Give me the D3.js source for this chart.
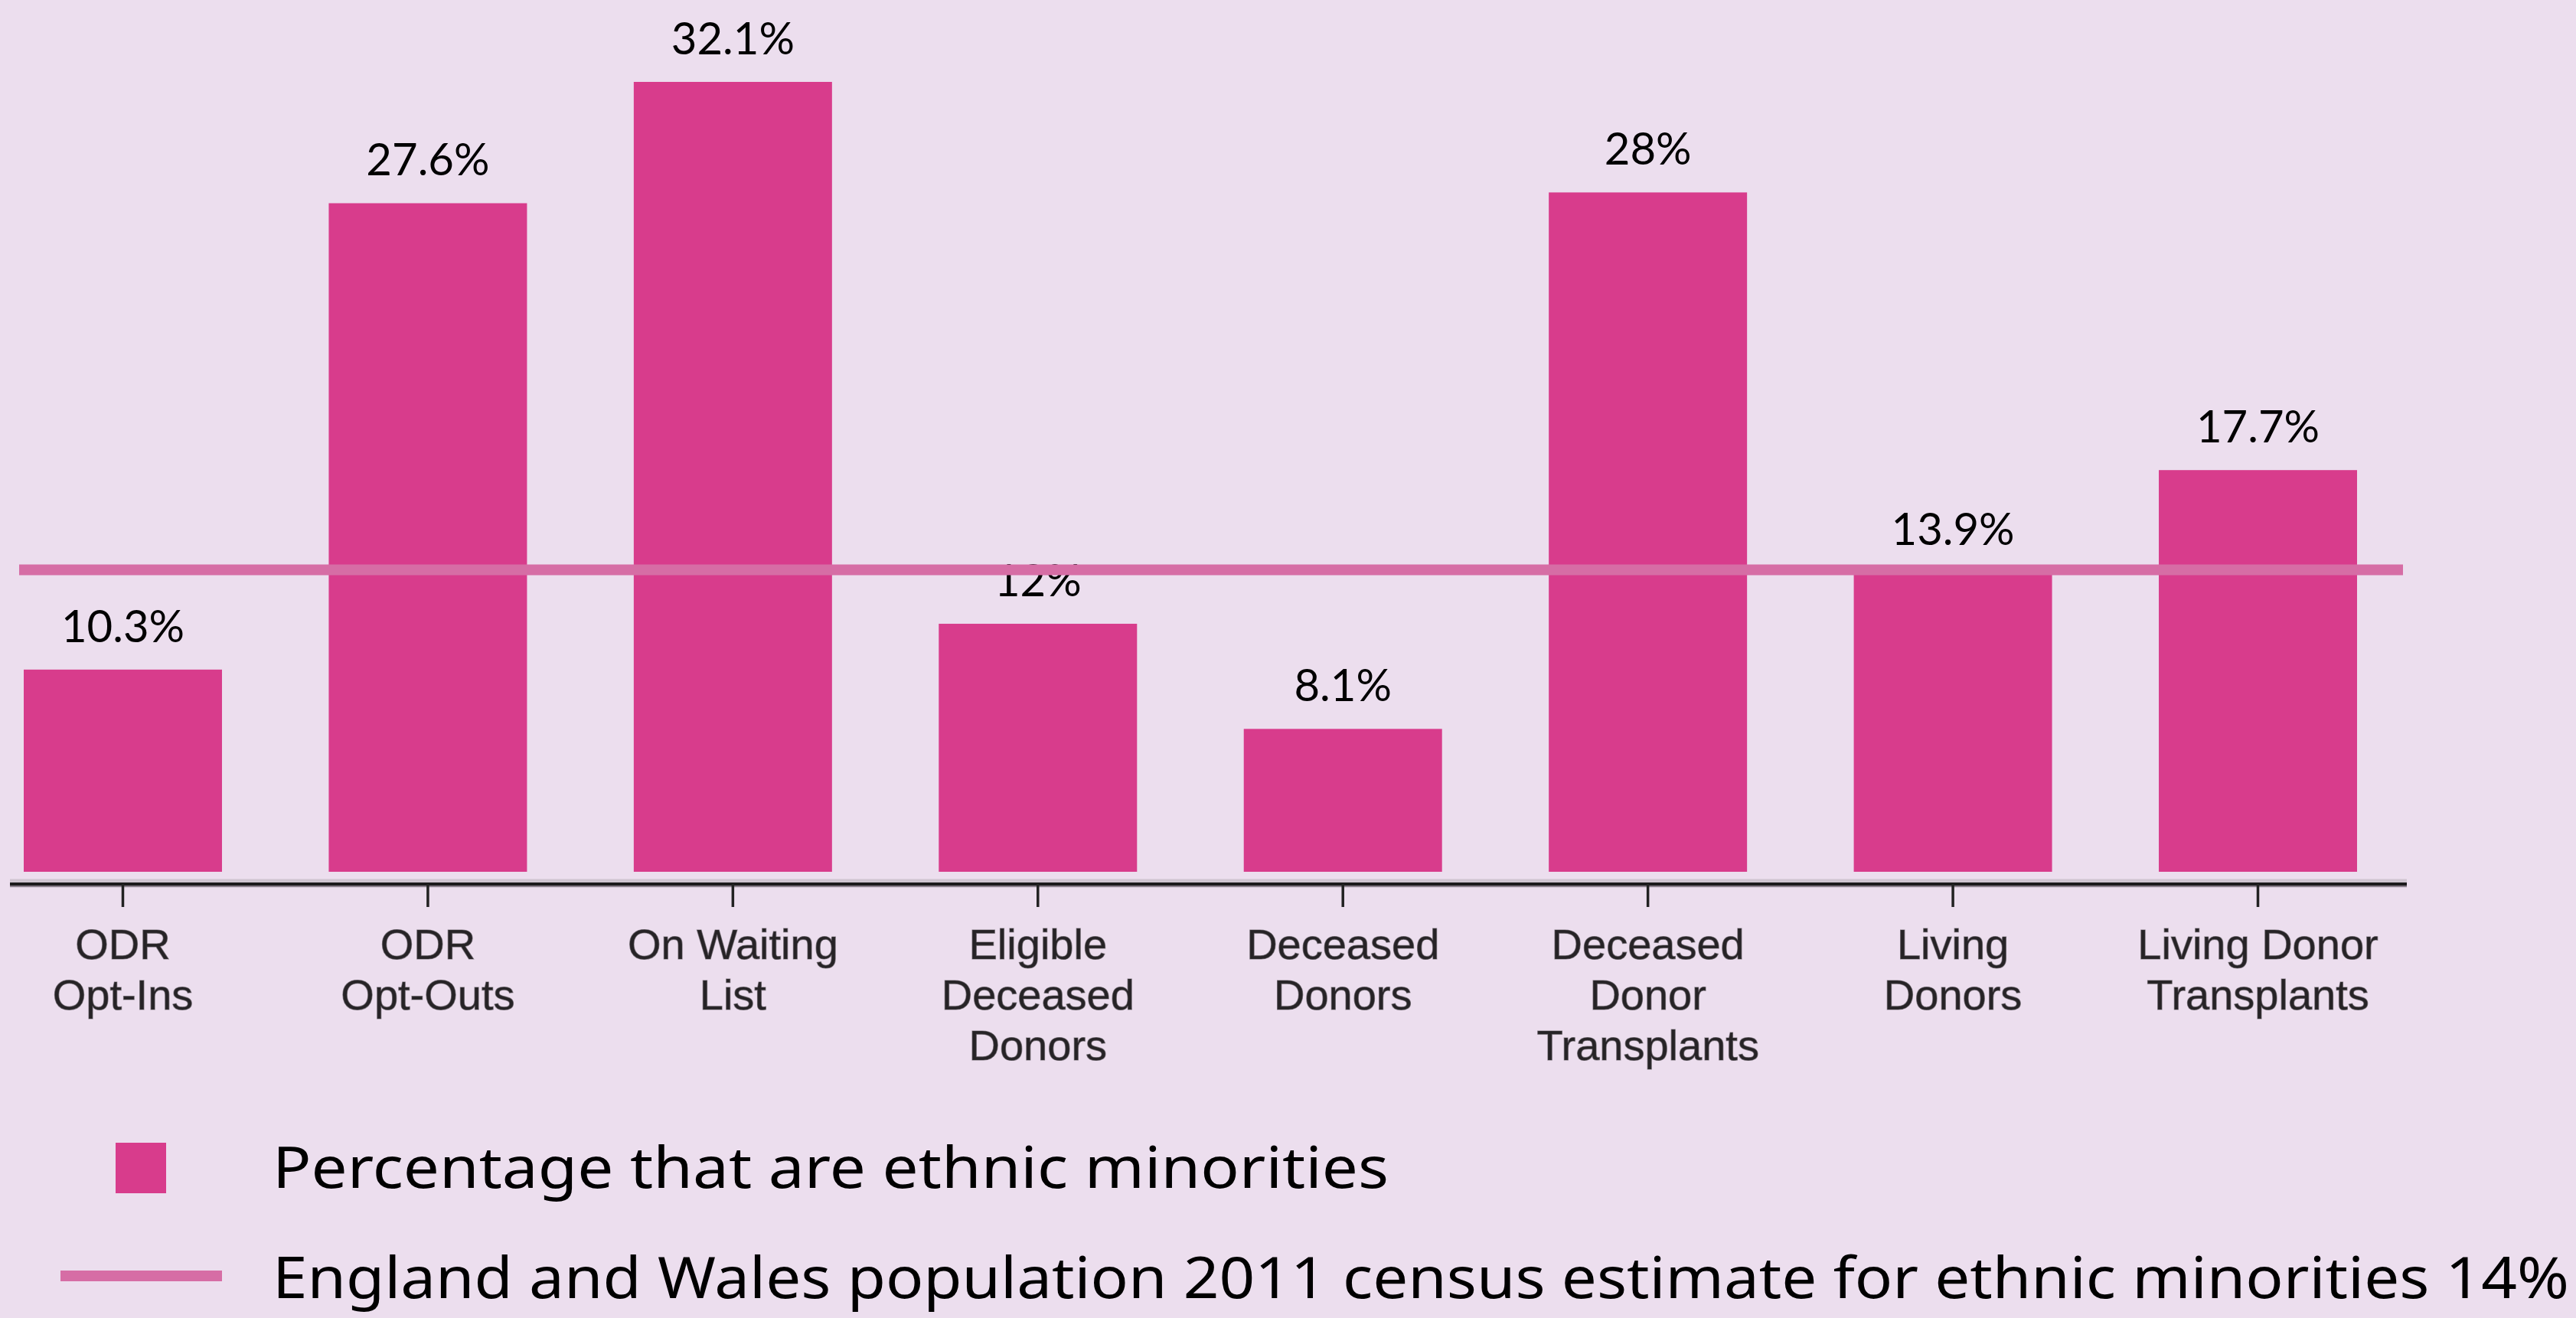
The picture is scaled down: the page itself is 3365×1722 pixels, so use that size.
<!DOCTYPE html>
<html lang="en">
<head>
<meta charset="utf-8">
<script src="https://d3js.org/d3.v7.min.js"></script>
<style type="text/css">
body {
  margin: 0;
  background: #ecdeee;
}
.bar-label {
  font-family: Lato, sans-serif;
  font-size: 58px;
  fill: #000;
}
.cat-label {
  font-family: "Liberation Sans", Arial, sans-serif;
  font-size: 56px;
  fill: #262326;
  stroke: #4a444a;
  stroke-width: 1.2px;
  stroke-opacity: 0.6;
}
.legend-text {
  font-family: "Noto Sans", "Open Sans", sans-serif;
  font-weight: 400;
  font-size: 75px;
  fill: #000;
  font-variant-ligatures: none;
}
</style>
<title>Ethnic minorities</title>
</head>
<body>
<script type="text/javascript">
var categories = ["ODR Opt-Ins", "ODR Opt-Outs", "On Waiting List", "Eligible Deceased Donors",
                  "Deceased Donors", "Deceased Donor Transplants", "Living Donors", "Living Donor Transplants"];
var catLines = [["ODR", "Opt-Ins"], ["ODR", "Opt-Outs"], ["On Waiting", "List"],
                ["Eligible", "Deceased", "Donors"], ["Deceased", "Donors"],
                ["Deceased", "Donor", "Transplants"], ["Living", "Donors"], ["Living Donor", "Transplants"]];
var values = [10.3, 27.6, 32.1, 12, 8.1, 28, 13.9, 17.7];
var valueLabels = ["10.3%", "27.6%", "32.1%", "12%", "8.1%", "28%", "13.9%", "17.7%"];
var censusValue = 14;
var legendLabels = ["Percentage that are ethnic minorities",
                    "England and Wales population 2011 census estimate for ethnic minorities 14%"];

var width = 3365, height = 1722;
var barColor = "#d83c8c", lineColor = "#d66da5";

var svg = d3.select("body").append("svg")
    .attr("width", width)
    .attr("height", height);

svg.append("rect")
    .attr("width", width)
    .attr("height", height)
    .attr("fill", "#ecdeee");

var x = d3.scaleBand().domain(categories).range([31, 3079]).paddingInner(0.35).paddingOuter(0);
// the original axis does not start at zero
var y = d3.scaleLinear().domain([2.8, 32.1]).range([1139, 107]);

var axisY = 1155;

// axis baseline with soft shadow
svg.append("line")
    .attr("x1", 13).attr("x2", 3144)
    .attr("y1", axisY - 1).attr("y2", axisY - 1)
    .attr("stroke", "#cfc4d0").attr("stroke-width", 11);
svg.append("line")
    .attr("x1", 13).attr("x2", 3144)
    .attr("y1", axisY + 2).attr("y2", axisY + 2)
    .attr("stroke", "#8a7e8b").attr("stroke-width", 4);
svg.append("line")
    .attr("x1", 13).attr("x2", 3144)
    .attr("y1", axisY).attr("y2", axisY)
    .attr("stroke", "#1c1a1c").attr("stroke-width", 4);

var xAxis = svg.append("g")
    .attr("transform", "translate(0," + axisY + ")")
    .call(d3.axisBottom(x).tickSize(30).tickSizeOuter(0).tickFormat(""));
xAxis.select(".domain").remove();
xAxis.selectAll(".tick line")
    .attr("stroke", "#222")
    .attr("stroke-width", 3.5);

categories.forEach(function(c, i) {
  var t = svg.append("text")
      .attr("class", "cat-label")
      .attr("text-anchor", "middle")
      .attr("x", x(c) + x.bandwidth() / 2)
      .attr("y", 1253);
  catLines[i].forEach(function(line, j) {
    t.append("tspan")
      .attr("x", x(c) + x.bandwidth() / 2)
      .attr("dy", j === 0 ? 0 : 66)
      .text(line);
  });
});

svg.selectAll(".bar")
    .data(values)
  .enter().append("rect")
    .attr("class", "bar")
    .attr("x", function(d, i) { return x(categories[i]); })
    .attr("y", function(d) { return y(d); })
    .attr("width", x.bandwidth())
    .attr("height", function(d) { return y.range()[0] - y(d); })
    .attr("fill", barColor);

svg.selectAll(".bar-label")
    .data(values)
  .enter().append("text")
    .attr("class", "bar-label")
    .attr("text-anchor", "middle")
    .attr("x", function(d, i) { return x(categories[i]) + x.bandwidth() / 2; })
    .attr("y", function(d) { return y(d) - 36; })
    .text(function(d, i) { return valueLabels[i]; });

// census reference line
svg.append("line")
    .attr("x1", 25).attr("x2", 3139)
    .attr("y1", y(censusValue)).attr("y2", y(censusValue))
    .attr("stroke", lineColor)
    .attr("stroke-width", 14);

// legend
svg.append("rect")
    .attr("x", 151).attr("y", 1493)
    .attr("width", 66).attr("height", 66)
    .attr("fill", barColor);
svg.append("text")
    .attr("class", "legend-text")
    .attr("x", 356).attr("y", 1552)
    .attr("textLength", 1458)
    .attr("lengthAdjust", "spacingAndGlyphs")
    .text(legendLabels[0]);

svg.append("line")
    .attr("x1", 79).attr("x2", 290)
    .attr("y1", 1667).attr("y2", 1667)
    .attr("stroke", lineColor)
    .attr("stroke-width", 14);
svg.append("text")
    .attr("class", "legend-text")
    .attr("x", 356).attr("y", 1696)
    .attr("textLength", 3000)
    .attr("lengthAdjust", "spacingAndGlyphs")
    .text(legendLabels[1]);
</script>
</body>
</html>
